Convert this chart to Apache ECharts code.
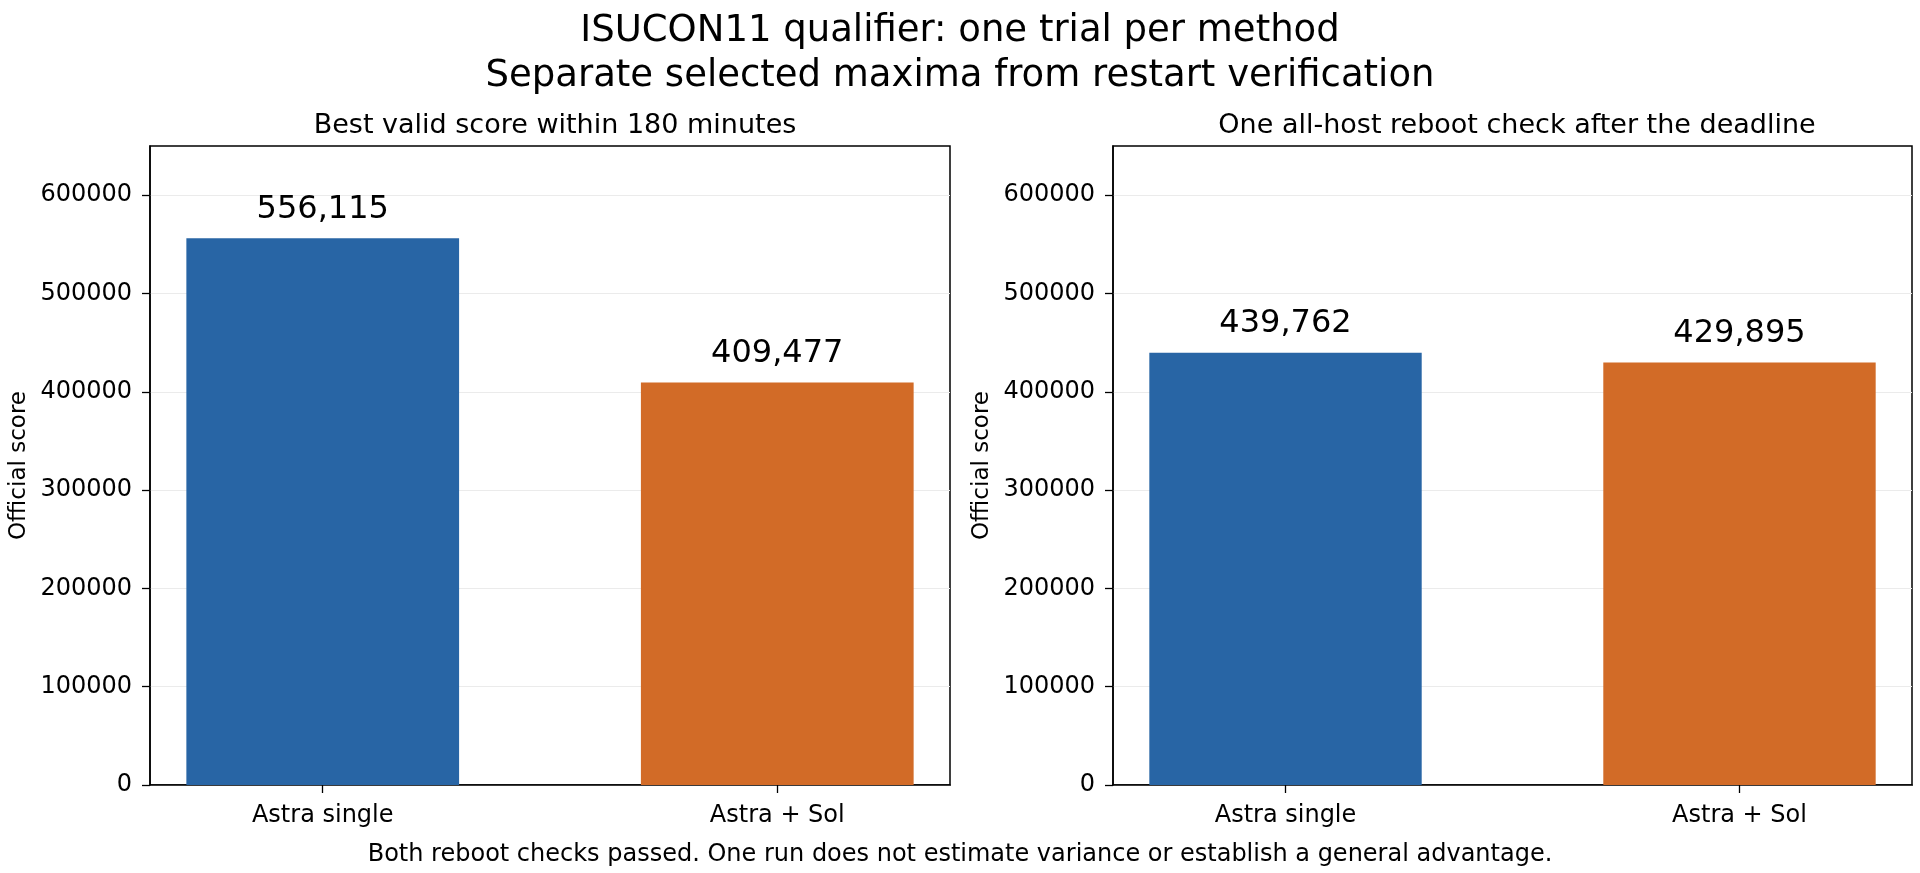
<!DOCTYPE html>
<html>
<head>
<meta charset="utf-8">
<script src="https://cdn.jsdelivr.net/npm/echarts@6/dist/echarts.min.js"></script>
<style>
  html, body { margin: 0; padding: 0; background: #fff; }
  #chart { width: 1920px; height: 873px; }
</style>
</head>
<body>
<div id="chart"></div>
<script>
const categories = ["Astra single", "Astra + Sol"];
const bestScores = [556115, 409477];
const rebootScores = [439762, 429895];
const yTicks = [0, 100000, 200000, 300000, 400000, 500000, 600000];
const barColors = ["#2865a5", "#d26b27"];

const FONT = "DejaVu Sans";
const chart = echarts.init(document.getElementById("chart"), null, { renderer: "canvas" });

function makeGrid(left, width) {
  return {
    left: left, top: 146, width: width, height: 639,
    show: true, borderColor: "#000", borderWidth: 1.5,
    backgroundColor: "transparent", containLabel: false
  };
}

function makeX(idx) {
  return {
    gridIndex: idx,
    type: "value",
    min: -0.38,
    max: 1.38,
    splitLine: { show: false },
    axisLine: { show: true, onZero: false, lineStyle: { color: "#000", width: 1.5 } },
    axisTick: { show: true, length: 8, customValues: [0, 1], lineStyle: { color: "#000", width: 1.3 } },
    axisLabel: {
      customValues: [0, 1],
      margin: 19,
      fontFamily: FONT, fontSize: 24, color: "#000",
      formatter: v => categories[Math.round(v)]
    }
  };
}

function makeY(idx) {
  return {
    gridIndex: idx,
    type: "value",
    min: 0,
    max: 650000,
    interval: 100000,
    name: "Official score",
    nameLocation: "middle",
    nameGap: 119,
    nameTextStyle: { fontFamily: FONT, fontSize: 23, color: "#000" },
    axisLine: { show: true, onZero: false, lineStyle: { color: "#000", width: 1.5 } },
    axisTick: { show: true, length: 8, customValues: yTicks, lineStyle: { color: "#000", width: 1.3 } },
    axisLabel: {
      customValues: yTicks,
      margin: 18,
      fontFamily: FONT, fontSize: 24, color: "#000",
      formatter: v => String(v)
    },
    splitLine: { show: true, lineStyle: { color: "#ebebeb", width: 1.2 } }
  };
}

function makeSeries(idx, values) {
  return {
    type: "bar",
    xAxisIndex: idx,
    yAxisIndex: idx,
    barWidth: "60%",
    data: values.map((v, i) => ({ value: [i, v], itemStyle: { color: barColors[i] } })),
    label: {
      show: true,
      position: "top",
      distance: 13,
      fontFamily: FONT, fontSize: 32, color: "#000",
      formatter: p => p.value[1].toLocaleString("en-US")
    }
  };
}

const option = {
  animation: false,
  backgroundColor: "#fff",
  title: [
    {
      text: "ISUCON11 qualifier: one trial per method\nSeparate selected maxima from restart verification",
      left: "center", top: 4,
      textStyle: { fontFamily: FONT, fontSize: 37, fontWeight: "normal", color: "#000", lineHeight: 45 }
    },
    {
      text: "Best valid score within 180 minutes",
      left: 550, top: 107, textAlign: "center",
      textStyle: { fontFamily: FONT, fontSize: 27, fontWeight: "normal", color: "#000" }
    },
    {
      text: "One all-host reboot check after the deadline",
      left: 1512, top: 107, textAlign: "center",
      textStyle: { fontFamily: FONT, fontSize: 27, fontWeight: "normal", color: "#000" }
    },
    {
      text: "Both reboot checks passed. One run does not estimate variance or establish a general advantage.",
      left: "center", top: 838,
      textStyle: { fontFamily: FONT, fontSize: 24, fontWeight: "normal", color: "#000" }
    }
  ],
  grid: [makeGrid(150, 800), makeGrid(1113, 799)],
  xAxis: [makeX(0), makeX(1)],
  yAxis: [makeY(0), makeY(1)],
  series: [makeSeries(0, bestScores), makeSeries(1, rebootScores)]
};

chart.setOption(option);
</script>
</body>
</html>
